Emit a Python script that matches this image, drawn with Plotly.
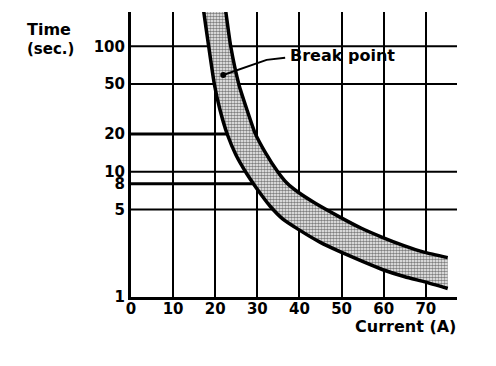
import plotly.graph_objects as go

# ---- data ----
lower_current = [16.97, 17.20, 18.39, 19.81, 21.12, 22.90, 24.92, 27.53, 29.43, 31.32, 32.99,
                 36.07, 39.63, 44.85, 49.60, 54.82, 59.80, 65.02, 69.77, 75.2]
lower_time    = [236, 197, 103, 49.4, 31.2, 19.7, 13.6, 9.58, 7.69, 6.28, 5.32,
                 4.18, 3.48, 2.74, 2.30, 1.93, 1.65, 1.45, 1.32, 1.17]
upper_current = [22.07, 22.43, 23.61, 25.63, 27.53, 29.43, 31.80, 34.88, 37.02, 39.63, 43.66,
                 49.60, 54.58, 59.80, 64.78, 69.77, 75.2]
upper_time    = [236, 197, 103, 49.4, 31.2, 20.4, 14.4, 9.95, 8.12, 6.88, 5.62,
                 4.34, 3.55, 2.98, 2.57, 2.27, 2.06]

x_ticks = [0, 10, 20, 30, 40, 50, 60, 70]
y_ticks = [1, 5, 8, 10, 20, 50, 100]
full_h_lines = [100, 50, 10, 5]
partial_h_lines = [20, 8]
break_current = 30
x_max = 77.4
y_max = 188

leader_current = [21.9, 32.2, 36.6]
leader_time = [59, 78, 81]

FONT = "DejaVu Sans"
fig = go.Figure()

# horizontal grid lines
for v in full_h_lines:
    fig.add_trace(go.Scatter(x=[0, x_max], y=[v, v], mode="lines",
                             line=dict(color="black", width=2), hoverinfo="skip", showlegend=False))
for v in partial_h_lines:
    fig.add_trace(go.Scatter(x=[0, break_current], y=[v, v], mode="lines",
                             line=dict(color="black", width=3), hoverinfo="skip", showlegend=False))

# band
band_x = lower_current + upper_current[::-1]
band_y = lower_time + upper_time[::-1]
fig.add_trace(go.Scatter(x=band_x, y=band_y, mode="lines", fill="toself",
                         line=dict(width=0, color="rgba(0,0,0,0)"),
                         fillcolor="white",
                         fillpattern=dict(shape=".", fgcolor="black", bgcolor="white",
                                          size=3, solidity=0.6),
                         hoverinfo="skip", showlegend=False))
fig.add_trace(go.Scatter(x=lower_current, y=lower_time, mode="lines",
                         line=dict(color="black", width=3.5, shape="spline", smoothing=0.5),
                         showlegend=False))
fig.add_trace(go.Scatter(x=upper_current, y=upper_time, mode="lines",
                         line=dict(color="black", width=3.5, shape="spline", smoothing=0.5),
                         showlegend=False))

# leader line for break point
fig.add_trace(go.Scatter(x=leader_current, y=leader_time, mode="lines",
                         line=dict(color="black", width=2), showlegend=False))
fig.add_trace(go.Scatter(x=leader_current[:1], y=leader_time[:1], mode="markers",
                         marker=dict(color="black", size=6), showlegend=False))

fig.add_annotation(x=37.2, y=1.925, yref="y", xref="x", text="Break point", showarrow=False,
                   xanchor="left", yanchor="middle",
                   font=dict(family=FONT, size=16, color="black", weight="bold"))

fig.add_annotation(x=-0.325, y=0.937, xref="paper", yref="paper", text="Time",
                   showarrow=False, xanchor="left", yanchor="middle",
                   font=dict(family=FONT, size=16, color="black", weight="bold"))
fig.add_annotation(x=-0.325, y=0.870, xref="paper", yref="paper", text="(sec.)",
                   showarrow=False, xanchor="left", yanchor="middle",
                   font=dict(family=FONT, size=15, color="black", weight="bold"))
fig.add_annotation(x=1.003, y=-0.102, xref="paper", yref="paper", text="Current (A)",
                   showarrow=False, xanchor="right", yanchor="middle",
                   font=dict(family=FONT, size=16, color="black", weight="bold"))

fig.update_xaxes(range=[0, x_max], tickvals=x_ticks, ticktext=[str(v) for v in x_ticks],
                 showgrid=True, gridcolor="black", gridwidth=2, zeroline=False,
                 showline=True, linecolor="black", linewidth=3, ticks="",
                 ticklabelstandoff=-4,
                 tickfont=dict(family=FONT, size=15, color="black", weight="bold"))
fig.update_yaxes(type="log", range=[0, 2.274], tickvals=y_ticks, ticktext=[str(v) for v in y_ticks],
                 showgrid=False, zeroline=False,
                 showline=True, linecolor="black", linewidth=3, ticks="",
                 tickfont=dict(family=FONT, size=15, color="black", weight="bold"))

# page body adds an 8px offset, so the figure is 8px smaller with shifted margins
fig.update_layout(width=488, height=358, margin=dict(l=123, r=39, t=4, b=69),
                  paper_bgcolor="white", plot_bgcolor="white", showlegend=False)

fig.write_html("out.html")
